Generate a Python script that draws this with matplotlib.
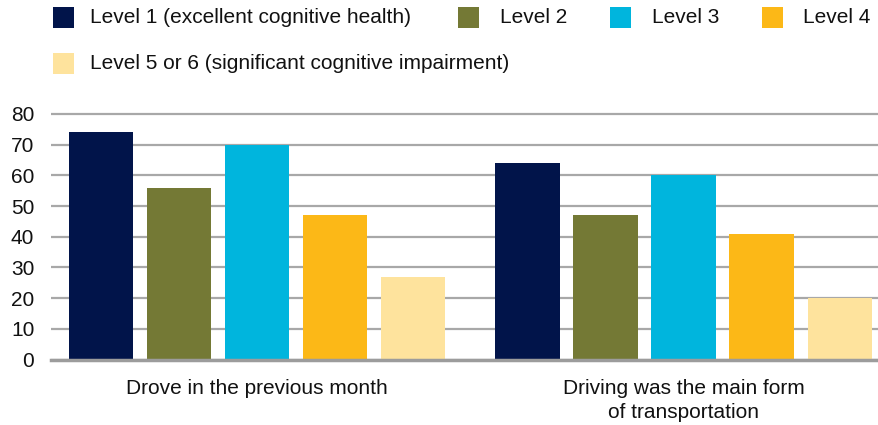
import matplotlib
matplotlib.use("Agg")
import matplotlib.pyplot as plt
from matplotlib.patches import Rectangle
import numpy as np

plt.rcParams['font.family'] = ['Liberation Sans', 'DejaVu Sans']

categories = ["Drove in the previous month", "Driving was the main form\nof transportation"]
series_names = ["Level 1 (excellent cognitive health)", "Level 2", "Level 3", "Level 4",
                "Level 5 or 6 (significant cognitive impairment)"]
level1 = [74, 64]
level2 = [56, 47]
level3 = [70, 60]
level4 = [47, 41]
level5 = [27, 20]
series_values = [level1, level2, level3, level4, level5]
colors = ['#01144A', '#747935', '#00B5DD', '#FCB817', '#FEE39D']
yticks = [0, 10, 20, 30, 40, 50, 60, 70, 80]

W, H = 879, 425
fig = plt.figure(figsize=(W / 100, H / 100), dpi=100)

ax_left, ax_right = 51, 879
ax_bottom_px, ax_top_px = 359.5, 111.5
ax = fig.add_axes([ax_left / W, 1 - ax_bottom_px / H, (ax_right - ax_left) / W,
                   (ax_bottom_px - ax_top_px) / H])

x = np.arange(len(categories))
step = 0.183
width = 0.151
for i, (vals, c) in enumerate(zip(series_values, colors)):
    ax.bar(x + (i - 2) * step, vals, width=width, color=c, zorder=2)

ax.set_xlim(-0.483, 1.458)
ax.set_ylim(0, 80.8)
ax.set_yticks(yticks)
ax.set_yticklabels([str(v) for v in yticks], fontsize=15, color='#111111')
ax.set_xticks(x)
ax.set_xticklabels(categories, fontsize=15, color='#111111', linespacing=1.35)
ax.tick_params(axis='y', length=0, pad=12)
ax.tick_params(axis='x', length=0, pad=14)
ax.yaxis.grid(True, color='#a8a8a8', linewidth=1.6, zorder=0)
ax.set_axisbelow(True)
for s in ['top', 'right', 'left']:
    ax.spines[s].set_visible(False)
ax.spines['bottom'].set_color('#9c9c9c')
ax.spines['bottom'].set_linewidth(2.5)
ax.spines['bottom'].set_zorder(3)

# legend (manual layout)
sq = 21
legend_pos = [(53, 7, 90), (458, 7, 500), (610, 7, 652), (762, 7, 803), (53, 53, 90)]
for (sx, sy, tx), name, c in zip(legend_pos, series_names, colors):
    fig.add_artist(Rectangle((sx / W, 1 - (sy + sq) / H), sq / W, sq / H,
                             transform=fig.transFigure, facecolor=c, edgecolor='none'))
    fig.text(tx / W, 1 - (sy + sq / 2) / H, name, fontsize=15, color='#111111',
             va='center', ha='left')

fig.savefig("out.png", dpi=100)
